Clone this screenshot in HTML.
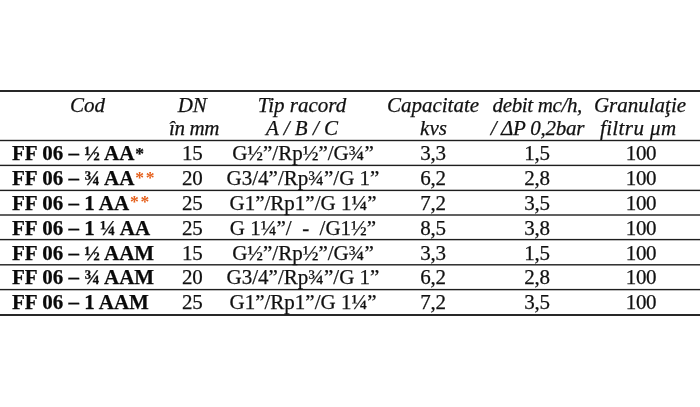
<!DOCTYPE html>
<html lang="ro">
<head>
<meta charset="utf-8">
<title>FF 06</title>
<style>
html,body{margin:0;padding:0;background:#fff;}
body{width:700px;height:407px;position:relative;overflow:hidden;font-family:"Liberation Serif",serif;font-size:21px;color:#111;}
.g{position:absolute;left:0;top:0;}
.t{position:absolute;white-space:pre;line-height:24px;height:24px;-webkit-text-stroke:0.25px #111;}
.c{transform:translateX(-50%);}
.h{font-style:italic;}
.n{letter-spacing:-0.3px;}
.b{font-weight:bold;color:#0a0a0a;}
.a{display:inline-block;width:10.5px;text-align:center;font-size:17.5px;vertical-align:1.3px;line-height:1px;}
.o{color:#e55f1a;font-weight:bold;font-size:17.5px;vertical-align:2.6px;-webkit-text-stroke:0;}
</style>
</head>
<body>
<svg class="g" width="700" height="407" viewBox="0 0 700 407">
<rect x="0" y="90.05" width="700" height="1.9" fill="#1e1e1e"/>
<rect x="0" y="139.8" width="700" height="1.4" fill="#1e1e1e"/>
<rect x="0" y="164.7" width="700" height="1.4" fill="#1e1e1e"/>
<rect x="0" y="189.7" width="700" height="1.4" fill="#1e1e1e"/>
<rect x="0" y="214.3" width="700" height="1.4" fill="#1e1e1e"/>
<rect x="0" y="238.9" width="700" height="1.4" fill="#1e1e1e"/>
<rect x="0" y="264.1" width="700" height="1.4" fill="#1e1e1e"/>
<rect x="0" y="288.9" width="700" height="1.4" fill="#1e1e1e"/>
<rect x="0" y="314.05" width="700" height="1.9" fill="#1e1e1e"/>
</svg>
<div class="t c h" style="left:87.6px;top:92.6px">Cod</div>
<div class="t c h" style="left:192.3px;top:92.6px">DN</div>
<div class="t c h" style="left:194px;top:115.9px;letter-spacing:-0.35px">în mm</div>
<div class="t c h" style="left:302px;top:92.6px">Tip racord</div>
<div class="t c h" style="left:302px;top:116.1px">A / B / C</div>
<div class="t c h" style="left:433px;top:92.6px">Capacitate</div>
<div class="t c h" style="left:433.5px;top:116.1px">kvs</div>
<div class="t c h" style="left:537.3px;top:92.6px;letter-spacing:-0.35px">debit mc/h,</div>
<div class="t c h" style="left:537.4px;top:116.1px;letter-spacing:-0.25px">/ ΔP 0,2bar</div>
<div class="t c h" style="left:640px;top:92.6px">Granulaţie</div>
<div class="t c h" style="left:638.2px;top:116.1px;letter-spacing:0.4px">filtru μm</div>
<div class="t b" style="left:12px;top:141.3px">FF 06 – ½ AA<span class="a">*</span></div>
<div class="t c n" style="left:192.3px;top:141.3px">15</div>
<div class="t c" style="left:303px;top:141.3px">G½”/Rp½”/G¾”</div>
<div class="t c n" style="left:433px;top:141.3px">3,3</div>
<div class="t c n" style="left:537px;top:141.3px">1,5</div>
<div class="t c n" style="left:641px;top:141.3px">100</div>
<div class="t b" style="left:12px;top:166.1px">FF 06 – ¾ AA<span class="a o">*</span><span class="a o">*</span></div>
<div class="t c n" style="left:192.3px;top:166.1px">20</div>
<div class="t c" style="left:303px;top:166.1px">G3/4”/Rp¾”/G 1”</div>
<div class="t c n" style="left:433px;top:166.1px">6,2</div>
<div class="t c n" style="left:537px;top:166.1px">2,8</div>
<div class="t c n" style="left:641px;top:166.1px">100</div>
<div class="t b" style="left:12px;top:190.95px">FF 06 – 1 AA<span class="a o">*</span><span class="a o">*</span></div>
<div class="t c n" style="left:192.3px;top:190.95px">25</div>
<div class="t c" style="left:303px;top:190.95px">G1”/Rp1”/G 1¼”</div>
<div class="t c n" style="left:433px;top:190.95px">7,2</div>
<div class="t c n" style="left:537px;top:190.95px">3,5</div>
<div class="t c n" style="left:641px;top:190.95px">100</div>
<div class="t b" style="left:12px;top:215.6px">FF 06 – 1 ¼ AA</div>
<div class="t c n" style="left:192.3px;top:215.6px">25</div>
<div class="t c" style="left:303px;top:215.6px">G 1¼”/  -  /G1½”</div>
<div class="t c n" style="left:433px;top:215.6px">8,5</div>
<div class="t c n" style="left:537px;top:215.6px">3,8</div>
<div class="t c n" style="left:641px;top:215.6px">100</div>
<div class="t b" style="left:12px;top:240.5px">FF 06 – ½ AAM</div>
<div class="t c n" style="left:192.3px;top:240.5px">15</div>
<div class="t c" style="left:303px;top:240.5px">G½”/Rp½”/G¾”</div>
<div class="t c n" style="left:433px;top:240.5px">3,3</div>
<div class="t c n" style="left:537px;top:240.5px">1,5</div>
<div class="t c n" style="left:641px;top:240.5px">100</div>
<div class="t b" style="left:12px;top:265.4px">FF 06 – ¾ AAM</div>
<div class="t c n" style="left:192.3px;top:265.4px">20</div>
<div class="t c" style="left:303px;top:265.4px">G3/4”/Rp¾”/G 1”</div>
<div class="t c n" style="left:433px;top:265.4px">6,2</div>
<div class="t c n" style="left:537px;top:265.4px">2,8</div>
<div class="t c n" style="left:641px;top:265.4px">100</div>
<div class="t b" style="left:12px;top:290.2px">FF 06 – 1 AAM</div>
<div class="t c n" style="left:192.3px;top:290.2px">25</div>
<div class="t c" style="left:303px;top:290.2px">G1”/Rp1”/G 1¼”</div>
<div class="t c n" style="left:433px;top:290.2px">7,2</div>
<div class="t c n" style="left:537px;top:290.2px">3,5</div>
<div class="t c n" style="left:641px;top:290.2px">100</div>
</body>
</html>
